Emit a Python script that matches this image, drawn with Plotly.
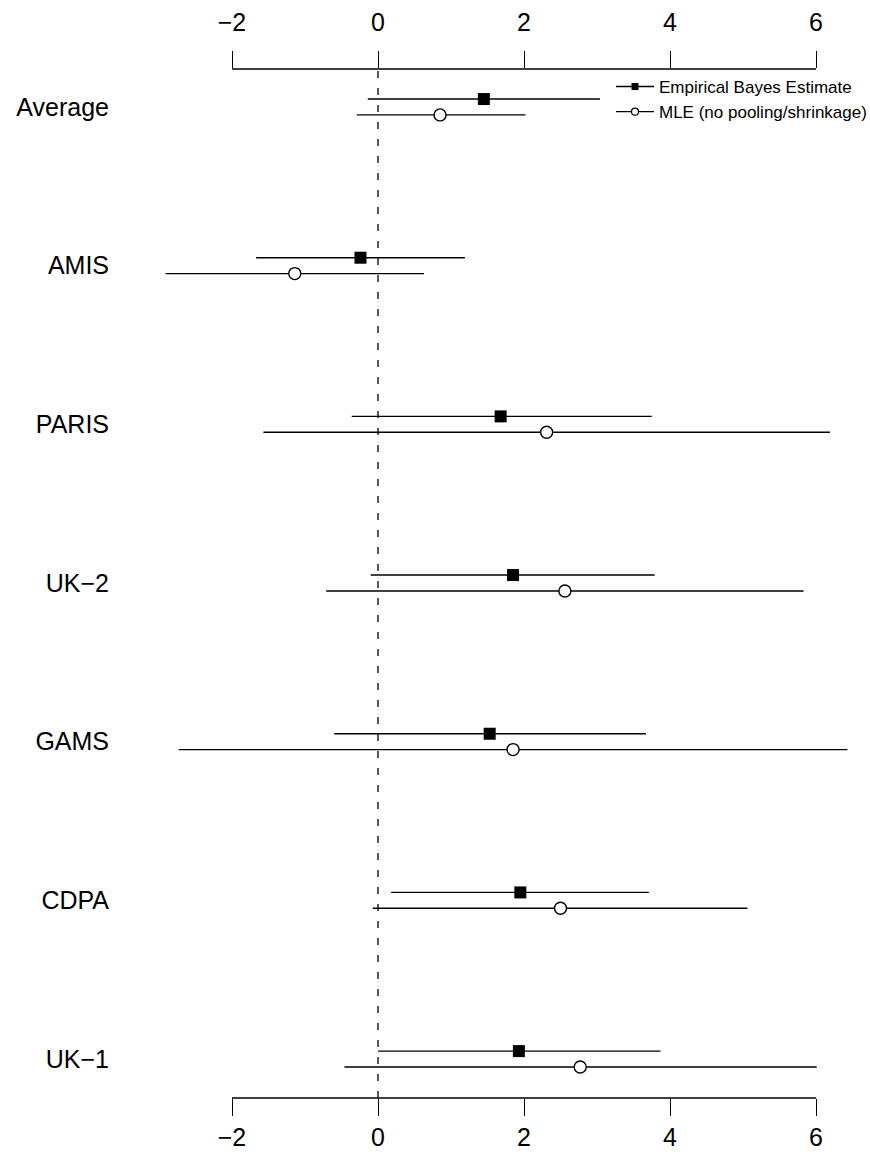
import plotly.graph_objects as go

# ---- data ----
studies = ["Average", "AMIS", "PARIS", "UK\u22122", "GAMS", "CDPA", "UK\u22121"]
eb_est = [1.45, -0.24, 1.68, 1.85, 1.53, 1.95, 1.93]
eb_lo = [-0.14, -1.67, -0.36, -0.10, -0.60, 0.18, 0.00]
eb_hi = [3.04, 1.19, 3.75, 3.79, 3.67, 3.71, 3.87]
mle_est = [0.85, -1.14, 2.31, 2.56, 1.85, 2.50, 2.77]
mle_lo = [-0.29, -2.91, -1.57, -0.71, -2.73, -0.07, -0.46]
mle_hi = [2.02, 0.63, 6.19, 5.83, 6.43, 5.06, 6.01]
tick_vals = [-2, 0, 2, 4, 6]
tick_text = ["\u22122", "0", "2", "4", "6"]

FONT = "Liberation Sans, Arial, sans-serif"
n = len(studies)
pos = [n - i for i in range(n)]          # Average at top
off = 0.05
y_eb = [p + off for p in pos]
y_mle = [p - off for p in pos]

fig = go.Figure()

fig.add_trace(go.Scatter(
    x=eb_est, y=y_eb, mode="markers", xaxis="x2", showlegend=False,
    marker=dict(symbol="square", size=12, color="black", line=dict(width=0)),
    error_x=dict(type="data", symmetric=False,
                 array=[h - e for h, e in zip(eb_hi, eb_est)],
                 arrayminus=[e - l for e, l in zip(eb_est, eb_lo)],
                 width=0, thickness=1.4, color="black"),
    hoverinfo="skip"))

fig.add_trace(go.Scatter(
    x=mle_est, y=y_mle, mode="markers", showlegend=False,
    marker=dict(symbol="circle", size=12, color="white",
                line=dict(width=1.4, color="black")),
    error_x=dict(type="data", symmetric=False,
                 array=[h - e for h, e in zip(mle_hi, mle_est)],
                 arrayminus=[e - l for e, l in zip(mle_est, mle_lo)],
                 width=0, thickness=1.4, color="black"),
    hoverinfo="skip"))

# legend entries
fig.add_trace(go.Scatter(
    x=[None], y=[None], mode="lines+markers", name="Empirical Bayes Estimate",
    line=dict(color="black", width=1.4),
    marker=dict(symbol="square", size=7, color="black")))
fig.add_trace(go.Scatter(
    x=[None], y=[None], mode="lines+markers", name="MLE (no pooling/shrinkage)",
    line=dict(color="black", width=1.4),
    marker=dict(symbol="circle", size=7, color="white",
                line=dict(width=1.2, color="black"))))

xr = [-2 - 232 / 73, 6 + 54 / 73]
axis_common = dict(range=xr, tickmode="array", tickvals=tick_vals,
                   ticktext=tick_text, ticks="outside", ticklen=17,
                   tickwidth=1.4, tickcolor="black", showline=False,
                   showgrid=False, zeroline=False,
                   tickfont=dict(family=FONT, size=25, color="black"))

fig.update_layout(
    width=870, height=1156,
    margin=dict(l=0, r=0, t=69, b=58, autoexpand=False),
    paper_bgcolor="white", plot_bgcolor="white",
    xaxis=dict(**axis_common, side="bottom", domain=[0, 1]),
    xaxis2=dict(**axis_common, side="top", overlaying="x", matches="x",
                ticklabelstandoff=10),
    yaxis=dict(range=[1 - 39 / 158.8, 7 + 38 / 158.8], tickmode="array",
               tickvals=pos, ticktext=studies, showgrid=False,
               zeroline=False, showline=False, ticks="",
               anchor="free", position=109 / 870, side="left",
               tickfont=dict(family=FONT, size=25, color="black")),
    legend=dict(x=611 / 870, y=1.0, xanchor="left", yanchor="top",
                bgcolor="rgba(0,0,0,0)", borderwidth=0,
                font=dict(family=FONT, size=17, color="black"),
                tracegroupgap=0, itemwidth=38),
    shapes=[
        dict(type="line", xref="x", yref="paper", x0=0, x1=0, y0=0, y1=1,
             line=dict(color="black", width=1.3, dash="7px,10px")),
        dict(type="line", xref="x", yref="paper", x0=-2, x1=6, y0=0, y1=0,
             line=dict(color="black", width=1.4)),
        dict(type="line", xref="x", yref="paper", x0=-2, x1=6, y0=1, y1=1,
             line=dict(color="black", width=1.4)),
    ],
)

fig.write_html("out.html")
